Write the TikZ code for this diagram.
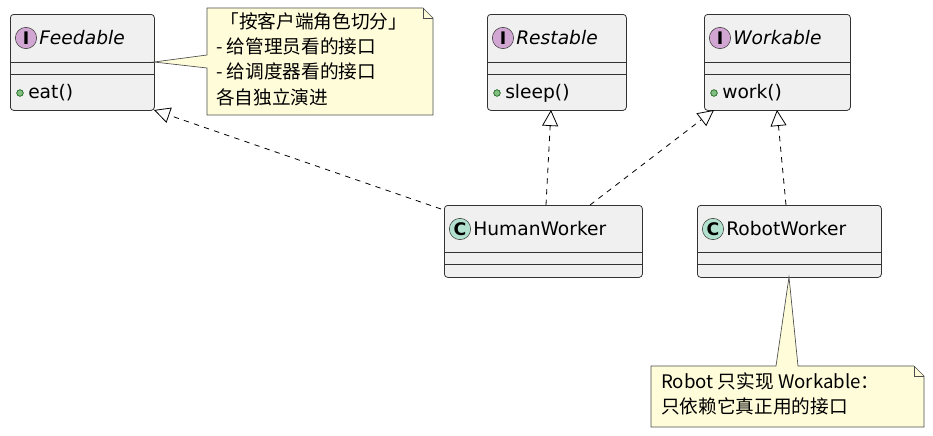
\documentclass[tikz,border=0pt]{standalone}
\usepackage{fontspec}
\setmainfont{DejaVu Sans}
\newfontfamily\cjk{Noto Sans CJK SC}
\usetikzlibrary{arrows.meta,calc}
\begin{document}
\begin{tikzpicture}[x=0.75pt,y=-0.75pt,
  box/.style={draw=black!80,fill=black!6,rounded corners=2.5pt,line width=0.6pt,anchor=north west,inner sep=0pt},
  note/.style={draw=black!70,fill=yellow!15,line width=0.5pt},
  txt/.style={font=\fontsize{14}{16}\selectfont,inner sep=0pt},
  icI/.style={circle,draw=black!80,fill=violet!35,minimum size=16pt,inner sep=0pt,font=\bfseries\fontsize{13}{13}\selectfont},
  icC/.style={circle,draw=black!80,fill=green!25!teal!30,minimum size=16pt,inner sep=0pt,font=\bfseries\fontsize{13}{13}\selectfont},
  real/.style={dashed,line width=0.6pt,dash pattern=on 4pt off 4pt,-{Triangle[open,length=12pt,width=12pt]}},
  dot/.style={circle,fill=green!50!black!50,draw=green!30!black,inner sep=0pt,minimum size=5pt}]
\useasboundingbox (0,0) rectangle (933,436);
% interface boxes
\newcommand\iface[5]{%
  \node[box,minimum width=#3*0.75pt,minimum height=96*0.75pt] (#1) at (#2,14) {};
  \draw[black!80,line width=0.6pt] (#2,62) -- ++(#3,0) (#2,74) -- ++(#3,0);
  \node[icI] at ($(#2,38)+(16,0)$) {I};
  \node[txt,anchor=west,font=\itshape\fontsize{14}{16}\selectfont] at ($(#2,38)+(29,0)$) {#4};
  \node[dot] at ($(#2,93)+(10,0)$) {};
  \node[txt,anchor=west] at ($(#2,93)+(18,0)$) {#5};}
\iface{feed}{10}{144}{Feedable}{eat()}
\iface{rest}{487}{139}{Restable}{sleep()}
\iface{work}{704}{146}{Workable}{work()}
% classes
\newcommand\klass[4]{%
  \node[box,minimum width=#3*0.75pt,minimum height=72*0.75pt] (#1) at (#2,205) {};
  \draw[black!80,line width=0.6pt] (#2,252) -- ++(#3,0) (#2,264) -- ++(#3,0);
  \node[icC] at ($(#2,229)+(16,0)$) {C};
  \node[txt,anchor=west] at ($(#2,229)+(29,0)$) {#4};}
\klass{human}{444}{198}{HumanWorker}
\klass{robot}{697}{184}{RobotWorker}
% realizations
\coordinate (h1) at (441,209); \coordinate (f1) at (154,110);
\draw[real] (h1) -- (f1);
\draw[real] (546,205) -- (551,110);
\draw[real] (590,205) -- (714,110);
\draw[real] (786,205) -- (777,110);
% note 1
\draw[note] (207,8) -- (423,8) -- (433,18) -- (433,115) -- (207,115) -- (207,68) -- (154,62) -- (207,55) -- cycle;
\draw[black!70,line width=0.5pt] (423,8) -- (423,18) -- (433,18);
\node[txt,anchor=north west,align=left,font=\cjk\fontsize{14}{19}\selectfont] (n1) at (216,12) {\ 「按客户端角色切分」\\- 给管理员看的接口\\- 给调度器看的接口\\各自独立演进};
% note 2
\draw[note] (651,366) -- (776,366) -- (789,277) -- (798,366) -- (914,366) -- (924,376) -- (924,427) -- (651,427) -- cycle;
\draw[black!70,line width=0.5pt] (914,366) -- (914,376) -- (924,376);
\node[txt,anchor=north west,align=left,font=\cjk\fontsize{14}{19}\selectfont] (n2) at (661,372) {Robot 只实现 Workable：\\只依赖它真正用的接口};
\end{tikzpicture}
\end{document}
